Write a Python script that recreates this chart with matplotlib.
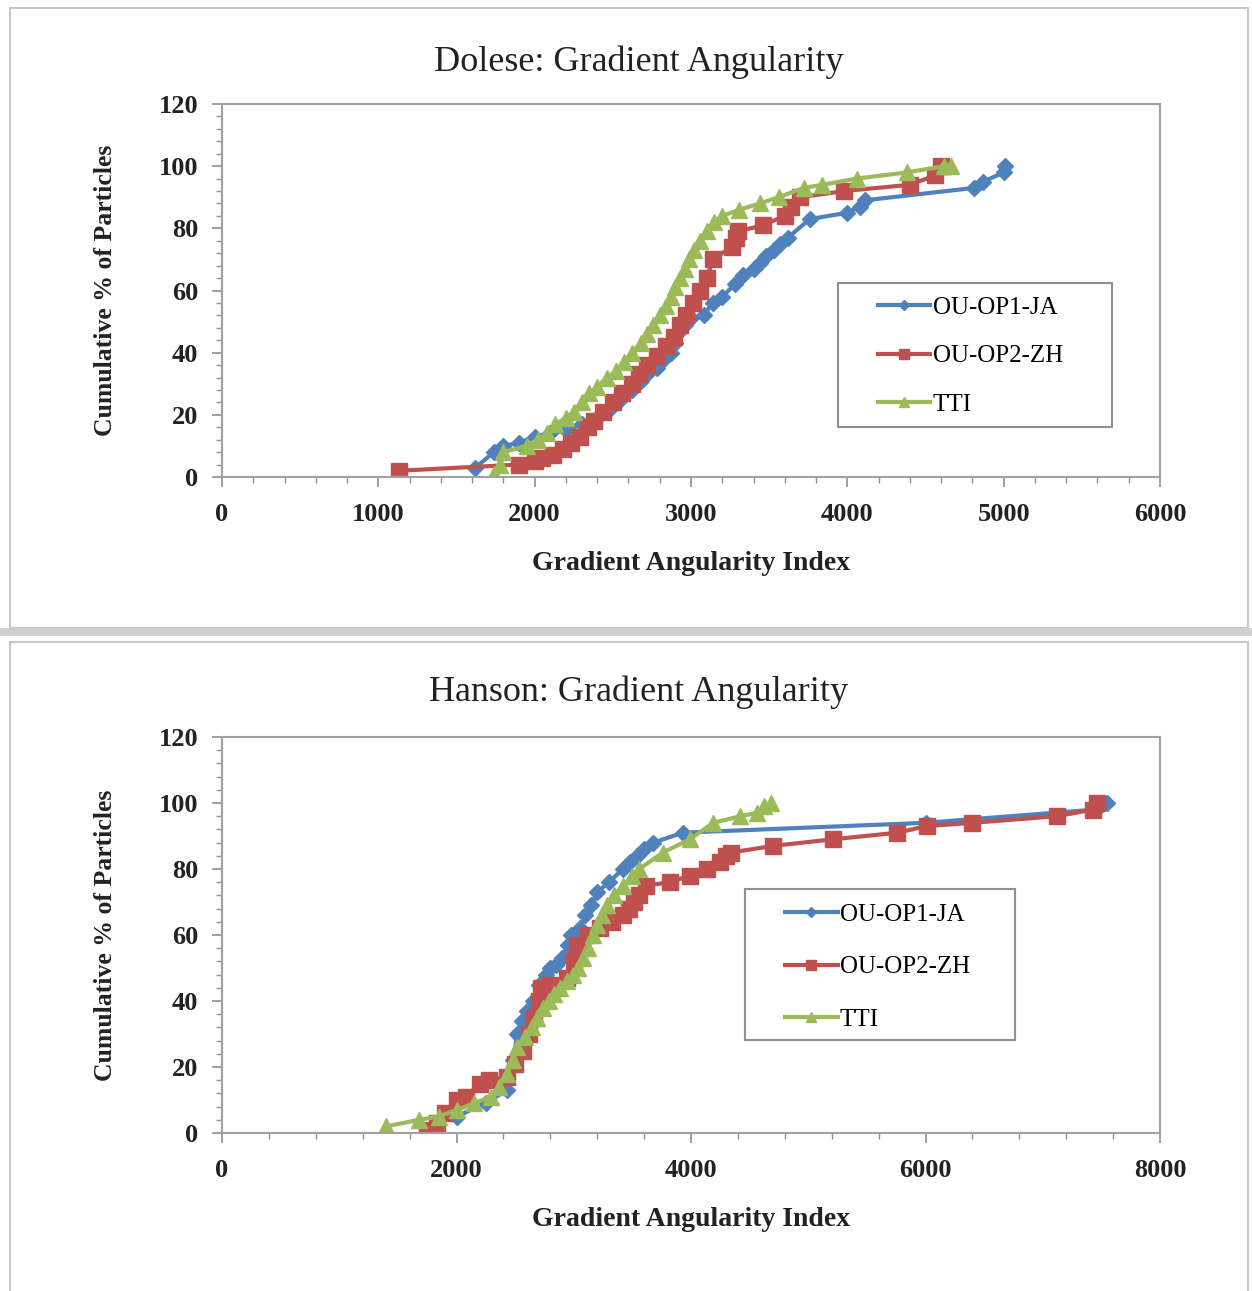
import matplotlib
matplotlib.use("Agg")
import matplotlib.pyplot as plt
from matplotlib.patches import Rectangle
from matplotlib.ticker import MultipleLocator

plt.rcParams['font.family'] = ['Liberation Serif', 'DejaVu Serif']

# Dolese data (Gradient Angularity Index, cumulative %)
dol_ja_x = [1620, 1740, 1800, 1900, 2000, 2100, 2200, 2300, 2400, 2480, 2550, 2620, 2680, 2720,
            2780, 2830, 2870, 2900, 2930, 2960, 3000, 3080, 3140, 3200, 3280, 3330, 3400, 3440,
            3480, 3530, 3570, 3620, 3760, 4000, 4080, 4110, 4810, 4870, 5000, 5010]
dol_ja_y = [3, 8, 10, 11, 13, 14, 15, 17, 19, 22, 25, 28, 31, 33, 35, 38, 40, 43, 47, 49, 51, 52,
            56, 58, 62, 65, 67, 69, 71, 73, 75, 77, 83, 85, 87, 89, 93, 95, 98, 100]
dol_zh_x = [1130, 1900, 2000, 2050, 2120, 2180, 2230, 2290, 2340, 2380, 2440, 2500, 2560, 2620,
            2670, 2720, 2780, 2840, 2890, 2930, 2970, 3010, 3060, 3100, 3140, 3260, 3290, 3300,
            3460, 3600, 3640, 3700, 3980, 4400, 4560, 4600]
dol_zh_y = [2, 4, 5, 6, 7, 9, 11, 13, 16, 18, 21, 24, 27, 30, 33, 36, 39, 42, 45, 49, 52, 56, 60,
            64, 70, 74, 77, 79, 81, 84, 87, 90, 92, 94, 97, 100]
dol_tti_x = [1740, 1780, 1800, 1950, 2020, 2080, 2130, 2200, 2250, 2300, 2350, 2400, 2460, 2520,
             2570, 2620, 2680, 2720, 2760, 2800, 2840, 2870, 2900, 2930, 2960, 2990, 3020, 3060,
             3100, 3150, 3200, 3310, 3440, 3560, 3720, 3840, 4060, 4380, 4620, 4660]
dol_tti_y = [1, 4, 8, 10, 12, 14, 17, 19, 21, 24, 27, 29, 32, 34, 37, 40, 43, 46, 49, 52, 55, 58,
             61, 64, 67, 70, 73, 76, 79, 82, 84, 86, 88, 90, 93, 94, 96, 98, 100, 100]

# Hanson data
han_ja_x = [2000, 2250, 2430, 2480, 2520, 2560, 2600, 2650, 2700, 2760, 2800, 2850, 2900, 2950,
            2980, 3050, 3100, 3150, 3200, 3300, 3420, 3480, 3540, 3600, 3680, 3930, 6000, 7450, 7550]
han_ja_y = [5, 9, 13, 22, 30, 34, 37, 40, 45, 48, 50, 51, 53, 57, 60, 62, 66, 69, 73, 76, 80, 82,
            84, 86, 88, 91, 94, 98, 100]
han_zh_x = [1750, 1830, 1900, 2000, 2080, 2200, 2280, 2430, 2500, 2570, 2620, 2660, 2700, 2720,
            2800, 2940, 3000, 3030, 3120, 3220, 3330, 3420, 3470, 3510, 3560, 3620, 3820, 3990,
            4140, 4250, 4300, 4340, 4700, 5210, 5760, 6010, 6400, 7120, 7430, 7460]
han_zh_y = [1, 3, 6, 10, 11, 15, 16, 17, 21, 25, 30, 35, 40, 44, 45, 47, 52, 57, 60, 62, 64, 66,
            68, 70, 72, 75, 76, 78, 80, 82, 84, 85, 87, 89, 91, 93, 94, 96, 98, 100]
han_tti_x = [1400, 1680, 1850, 2000, 2150, 2290, 2360, 2430, 2480, 2520, 2580, 2640, 2690, 2740,
             2790, 2830, 2880, 2940, 2990, 3040, 3080, 3120, 3160, 3200, 3240, 3280, 3340, 3420,
             3500, 3560, 3760, 3990, 4190, 4420, 4560, 4620, 4680]
han_tti_y = [2, 4, 5, 7, 9, 11, 14, 18, 22, 26, 29, 32, 35, 38, 40, 42, 44, 46, 48, 50, 53, 56,
             60, 63, 66, 69, 72, 75, 78, 80, 85, 89, 94, 96, 97, 99, 100]

labels = ["OU-OP1-JA", "OU-OP2-ZH", "TTI"]
colors = ["#4F81BD", "#C0504D", "#9BBB59"]
markers = ["D", "s", "^"]
msizes = [8, 11, 11]

W, H = 1252, 1291
fig = plt.figure(figsize=(W / 100, H / 100), dpi=100)

# panel frames and separator band
fig.patches.append(Rectangle((10 / W, 1 - 628 / H), 1238 / W, 620 / H, transform=fig.transFigure,
                             fill=False, edgecolor="#c8c8c8", linewidth=1.5))
fig.patches.append(Rectangle((0, 1 - 636 / H), 1, 8 / H, transform=fig.transFigure,
                             facecolor="#d0d0d0", edgecolor="none"))
fig.patches.append(Rectangle((10 / W, -0.01), 1238 / W, (H - 636) / H + 0.005, transform=fig.transFigure,
                             fill=False, edgecolor="#c8c8c8", linewidth=1.5))


def draw_panel(rect, title, title_y, series, xmax, xmajor, xminor, box, leg_anchor, spacing):
    ax = fig.add_axes(rect)
    for (x, y), lab, c, m, ms in zip(series, labels, colors, markers, msizes):
        ax.plot(x, y, color=c, marker=m, markersize=ms, linewidth=3, label=lab,
                markeredgecolor=c)
    ax.set_xlim(0, xmax)
    ax.set_ylim(0, 120)
    ax.xaxis.set_major_locator(MultipleLocator(xmajor))
    ax.xaxis.set_minor_locator(MultipleLocator(xminor))
    ax.yaxis.set_major_locator(MultipleLocator(20))
    ax.yaxis.set_minor_locator(MultipleLocator(4))
    ax.tick_params(which="both", direction="out", colors="#909090", labelcolor="#222222",
                   labelsize=19, top=False, right=False)
    ax.tick_params(which="major", length=7, width=1.2)
    ax.tick_params(axis="x", which="major", pad=12)
    ax.tick_params(axis="y", which="major", pad=10)
    ax.tick_params(which="minor", length=4, width=1)
    for lbl in ax.get_xticklabels() + ax.get_yticklabels():
        lbl.set_fontweight("bold")
    for sp in ax.spines.values():
        sp.set_color("#a0a0a0")
        sp.set_linewidth(1.5)
    ax.set_xlabel("Gradient Angularity Index", fontsize=20, fontweight="bold", labelpad=18,
                  color="#222222")
    ax.set_ylabel("Cumulative % of Particles", fontsize=18.5, fontweight="bold", labelpad=30,
                  color="#222222")
    fig.text(0.51, title_y, title, ha="center", va="center", fontsize=26, color="#222222")

    # legend box drawn separately, legend entries on top
    x0, y0, x1, y1 = box
    ax.add_patch(Rectangle((x0 / W, 1 - y1 / H), (x1 - x0) / W, (y1 - y0) / H,
                           transform=fig.transFigure, facecolor="white", edgecolor="#909090",
                           linewidth=1.5, zorder=4.5, clip_on=False))
    ax.legend(loc="center left", bbox_to_anchor=(leg_anchor[0] / W, 1 - leg_anchor[1] / H),
              bbox_transform=fig.transFigure, fontsize=18, frameon=False, handlelength=2.1,
              numpoints=1, labelspacing=spacing, borderpad=0, markerscale=0.7,
              handletextpad=0.1, borderaxespad=0)
    return ax


draw_panel([222 / W, 1 - 477 / H, 938 / W, 373 / H], "Dolese: Gradient Angularity", 1 - 62 / H,
           [(dol_ja_x, dol_ja_y), (dol_zh_x, dol_zh_y), (dol_tti_x, dol_tti_y)],
           6000, 1000, 200, (838, 283, 1112, 427), (878, 356), 1.05)
draw_panel([222 / W, 1 - 1133 / H, 938 / W, 396 / H], "Hanson: Gradient Angularity", 1 - 692 / H,
           [(han_ja_x, han_ja_y), (han_zh_x, han_zh_y), (han_tti_x, han_tti_y)],
           8000, 2000, 400, (745, 889, 1015, 1040), (785, 967), 1.2)

fig.savefig("out.png", dpi=100)
